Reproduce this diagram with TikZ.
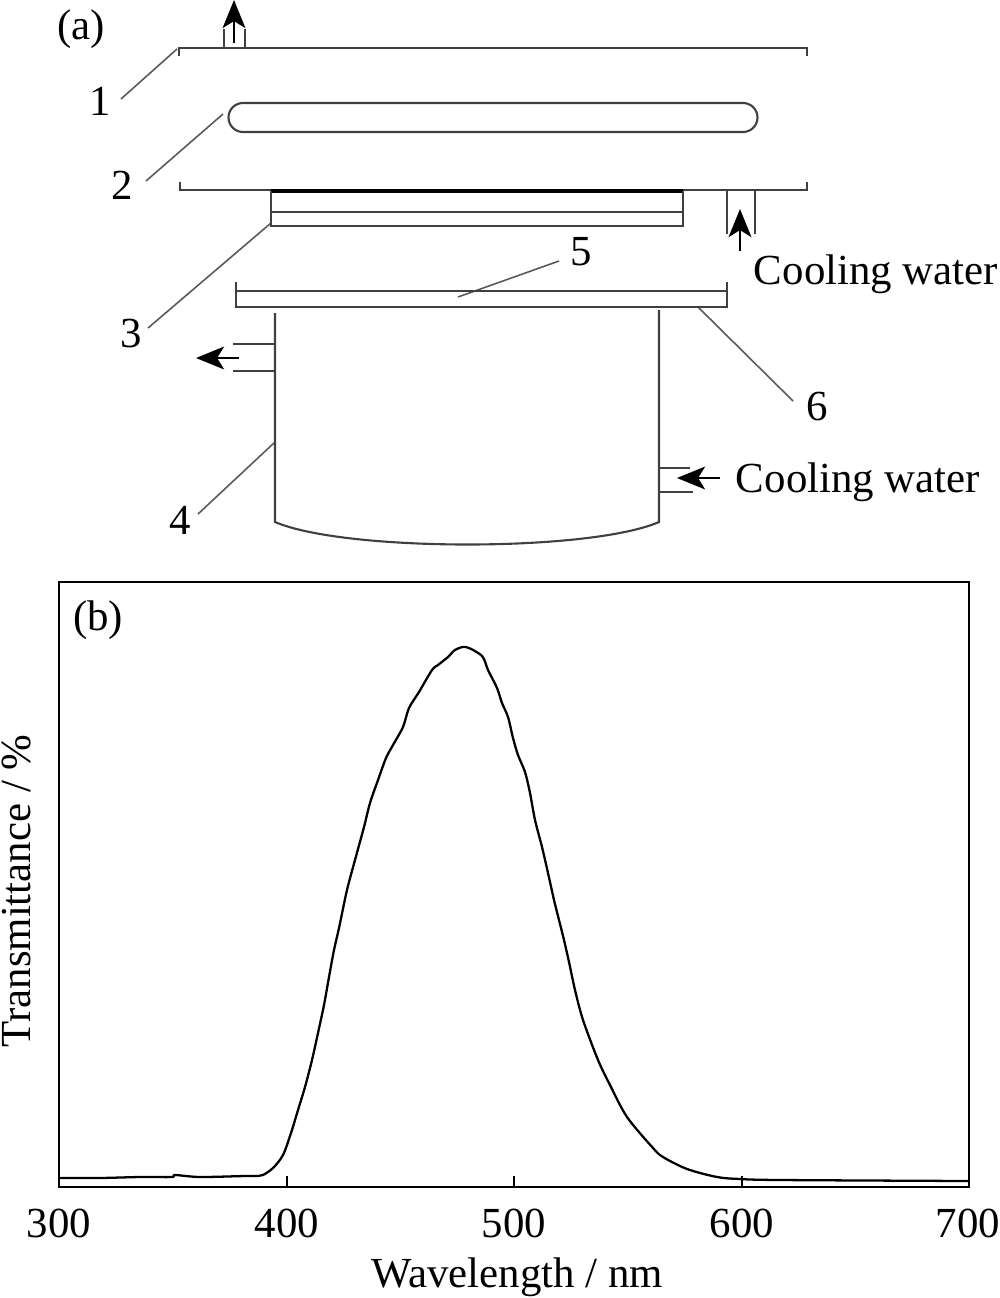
\documentclass[tikz,border=0pt]{standalone}
\usepackage{fontspec}
\setmainfont{Liberation Serif}
\usetikzlibrary{arrows.meta}
\definecolor{wallgray}{gray}{0.25}
\definecolor{leadgray}{gray}{0.35}
\tikzset{
  every node/.append style={inner sep=0pt, font=\fontsize{24.4}{28}\selectfont},
  wall/.style={draw=wallgray, line width=1.2pt},
  lead/.style={draw=leadgray, line width=0.9pt},
  flow/.style={draw=black, line width=1.1pt, -{Stealth[length=16pt,width=13pt,inset=4pt]}},
}
\begin{document}
\begin{tikzpicture}[x=0.02cm, y=0.02cm]
	\useasboundingbox (0,0) rectangle (1000,-1298);
	% labels
	\node (tagA) at (81,-29) {(a)};
	\node (tagB) at (98,-620) {(b)};
	\node (num1) at (100,-101) {1};
	\node (num2) at (122,-185) {2};
	\node (num3) at (131,-334) {3};
	\node (num4) at (180,-520) {4};
	\node (num5) at (581,-252) {5};
	\node (num6) at (817,-407) {6};
	\node (waterTop) at (876,-274) {Cooling water};
	\node (waterLow) at (858,-482) {Cooling water};
	% leader ends
	\coordinate (lead1a) at (121,-99);
	\coordinate (lead1b) at (177,-49);
	\coordinate (lead2a) at (146,-181);
	\coordinate (lead2b) at (223,-114);
	\coordinate (lead3a) at (148,-328);
	\coordinate (lead3b) at (271,-223);
	\coordinate (lead4a) at (198,-514);
	\coordinate (lead4b) at (274,-443);
	\coordinate (lead5a) at (559,-261);
	\coordinate (lead5b) at (458,-297);
	\coordinate (lead6a) at (698,-307);
	\coordinate (lead6b) at (793,-401);
	\foreach \n in {1,...,6}
		\draw [lead] (lead\n a) -- (lead\n b);
	% housing
	\draw [wall] (179,-56) -- (179,-48) -- (807,-48) -- (807,-56);
	\draw [wall] (224,-29) -- (224,-48);
	\draw [wall] (245,-29) -- (245,-48);
	\draw [wall] (243,-103) -- (743,-103) arc (90:-90:14.5) -- (243,-132) arc (270:90:14.5) -- cycle;
	\draw [wall] (180,-182) -- (180,-190) -- (807,-190) -- (807,-182);
	\draw [wall] (727,-190) -- (727,-234);
	\draw [wall] (755,-190) -- (755,-234);
	% filter
	\draw [black, line width=2pt] (271,-191) -- (683,-191);
	\draw [wall] (271,-191) -- (271,-226) -- (683,-226) -- (683,-191);
	\draw [wall] (271,-212) -- (683,-212);
	% plate
	\draw [wall] (236,-282) -- (236,-307) -- (727,-307) -- (727,-282);
	\draw [wall] (236,-291) -- (727,-291);
	% vessel
	\draw [wall] (275,-313) -- (275,-522) .. controls (345,-552) and (590,-552) .. (659,-522) -- (659,-310);
	\draw [wall] (233,-344) -- (275,-344);
	\draw [wall] (233,-371) -- (275,-371);
	\draw [wall] (659,-468) -- (690,-468);
	\draw [wall] (659,-492) -- (693,-492);
	% flow arrows
	\coordinate (outTopA) at (234,-43);
	\coordinate (outTopB) at (234,0);
	\coordinate (inTopA) at (740,-251);
	\coordinate (inTopB) at (740,-209);
	\coordinate (outLowA) at (239,-358);
	\coordinate (outLowB) at (196,-358);
	\coordinate (inLowA) at (720,-478);
	\coordinate (inLowB) at (677,-478);
	\draw [flow] (outTopA) -- (outTopB);
	\draw [flow] (inTopA) -- (inTopB);
	\draw [flow] (outLowA) -- (outLowB);
	\draw [flow] (inLowA) -- (inLowB);
	% chart
	\draw [black, line width=1.2pt] (59,-1187) -- (59,-582) -- (969,-582) -- (969,-1187);
	\draw [black, line width=1.4pt] (58,-1187) -- (970,-1187);
	\foreach \x in {287,514,742}
		\draw [black, line width=1.3pt] (\x,-1187) -- (\x,-1176);
	\node at (59,-1223) (tick300) {300};
	\node at (287,-1223) (tick400) {400};
	\node at (514,-1223) (tick500) {500};
	\node at (742,-1223) (tick600) {600};
	\node at (968,-1223) (tick700) {700};
	\node (xTitle) at (517,-1277) {Wavelength / nm};
	\node (yTitle) [rotate=90] at (17,-891) {Transmittance / \%};
	\draw [black, line width=1.3pt, line join=round] plot [smooth, tension=0.5] coordinates {
		(60,-1178) (100,-1178) (140,-1177) (172,-1177) (175,-1175) (200,-1177) (245,-1176) (258,-1176)
		(263,-1175) (273,-1168) (283,-1155) (291,-1133) (298,-1110) (305,-1087) (312,-1060) (318,-1033)
		(324,-1005) (329,-977) (334,-950) (339,-928) (347,-890) (355,-860) (364,-827) (370,-803)
		(378,-780) (386,-758) (393,-745) (403,-727) (409,-708) (419,-692) (432,-670) (438,-665)
		(448,-657) (455,-650) (466,-647) (482,-656) (488,-670) (497,-688) (502,-703) (508,-717)
		(513,-738) (518,-755) (525,-772) (530,-793) (535,-820) (542,-847) (548,-873) (554,-900)
		(559,-920) (564,-940) (569,-962) (575,-990) (583,-1020) (598,-1060) (610,-1085) (627,-1117)
		(653,-1148) (663,-1157) (687,-1169) (717,-1177) (740,-1179) (780,-1180) (968,-1181)};
\end{tikzpicture}
\end{document}
